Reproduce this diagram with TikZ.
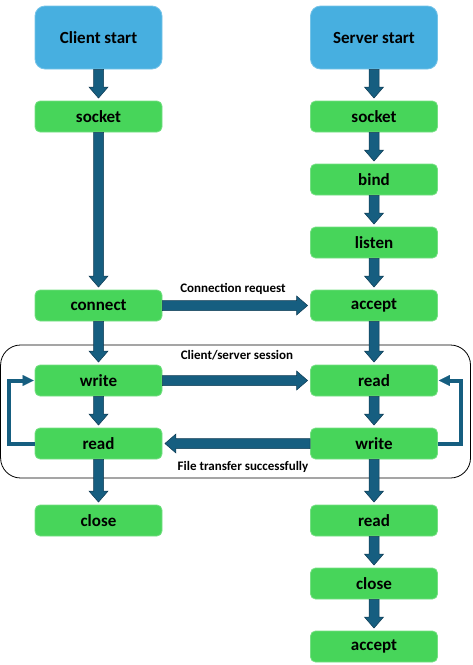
\documentclass[tikz,border=0pt]{standalone}
\usepackage{fontspec}
\setmainfont{Carlito}
\usetikzlibrary{calc,arrows.meta}
\definecolor{bluebox}{RGB}{71,175,224}
\definecolor{greenbox}{RGB}{71,213,90}
\definecolor{arrowfill}{RGB}{22,94,128}
\definecolor{arrowline}{RGB}{14,58,82}
\tikzset{
  startbox/.style={rectangle, rounded corners=10pt, fill=bluebox, draw=bluebox!75!white, line width=0.8pt,
    minimum width=127pt, minimum height=63pt, inner sep=0pt, font=\bfseries\fontsize{17}{20}\selectfont},
  stepbox/.style={rectangle, rounded corners=5pt, fill=greenbox, draw=greenbox!75!white, line width=0.8pt,
    minimum width=127pt, minimum height=31pt, inner sep=0pt, font=\bfseries\fontsize{17}{20}\selectfont},
  lbl/.style={font=\bfseries\fontsize{13}{15}\selectfont, inner sep=0pt},
  blk/.style={fill=arrowfill, draw=arrowline, line width=0.5pt, line join=miter},
  loopline/.style={draw=arrowfill, line width=4pt, -{Triangle[length=11pt,width=11pt,line width=0.01pt]}, shorten >=1pt}
}
\newcommand\blkarrow[2]{%
  \filldraw[blk] let \p1=(#1), \p2=(#2), \n1={atan2(\y2-\y1,\x2-\x1)}, \n2={veclen(\x2-\x1,\y2-\y1)-2.5} in
    [shift={(\p1)}, rotate=\n1]
    (0pt,-5pt) -- ({\n2*1pt-11pt},-5pt) -- ({\n2*1pt-11pt},-9.5pt) -- ({\n2*1pt},0pt)
    -- ({\n2*1pt-11pt},9.5pt) -- ({\n2*1pt-11pt},5pt) -- (0pt,5pt) -- cycle;}
\begin{document}
\begin{tikzpicture}[x=1pt,y=-1pt]
\useasboundingbox (0,0) rectangle (472,665);
% session frame
\draw[line width=0.8pt, rounded corners=20pt] (0.6,345) rectangle (470.5,478);
% client column
\node[startbox] (cstart) at (98.5,37.5) {Client start};
\node[stepbox] (csocket) at (98.5,116.5) {socket};
\node[stepbox] (cconnect) at (98.5,305.5) {connect};
\node[stepbox] (cwrite) at (98.5,380.5) {write};
\node[stepbox] (cread) at (98.5,443.5) {read};
\node[stepbox] (cclose) at (98.5,520.5) {close};
% server column
\node[startbox] (sstart) at (374,37.5) {Server start};
\node[stepbox] (ssocket) at (374,116.5) {socket};
\node[stepbox] (sbind) at (374,179.5) {bind};
\node[stepbox] (slisten) at (374,242.5) {listen};
\node[stepbox] (saccept) at (374,305.5) {accept};
\node[stepbox] (sread) at (374,380.5) {read};
\node[stepbox] (swrite) at (374,443.5) {write};
\node[stepbox] (sread2) at (374,520.5) {read};
\node[stepbox] (sclose) at (374,583.5) {close};
\node[stepbox] (saccept2) at (374,646.5) {accept};
% labels
\node[lbl] (lconn) at (233,289) {Connection request};
\node[lbl] (lsess) at (237,355) {Client/server session};
\node[lbl] (lfile) at (243,467) {File transfer successfully};
% vertical arrows
\blkarrow{cstart.south}{csocket.north}
\blkarrow{csocket.south}{cconnect.north}
\blkarrow{cconnect.south}{cwrite.north}
\blkarrow{cwrite.south}{cread.north}
\blkarrow{cread.south}{cclose.north}
\blkarrow{sstart.south}{ssocket.north}
\blkarrow{ssocket.south}{sbind.north}
\blkarrow{sbind.south}{slisten.north}
\blkarrow{slisten.south}{saccept.north}
\blkarrow{saccept.south}{sread.north}
\blkarrow{sread.south}{swrite.north}
\blkarrow{swrite.south}{sread2.north}
\blkarrow{sread2.south}{sclose.north}
\blkarrow{sclose.south}{saccept2.north}
% horizontal arrows
\blkarrow{cconnect.east}{saccept.west}
\blkarrow{cwrite.east}{sread.west}
\blkarrow{swrite.west}{cread.east}
% loops
\draw[loopline] (cread.west) -- ++(-26,0) |- (cwrite.west);
\draw[loopline] (swrite.east) -- ++(23,0) |- (sread.east);
\end{tikzpicture}
\end{document}
